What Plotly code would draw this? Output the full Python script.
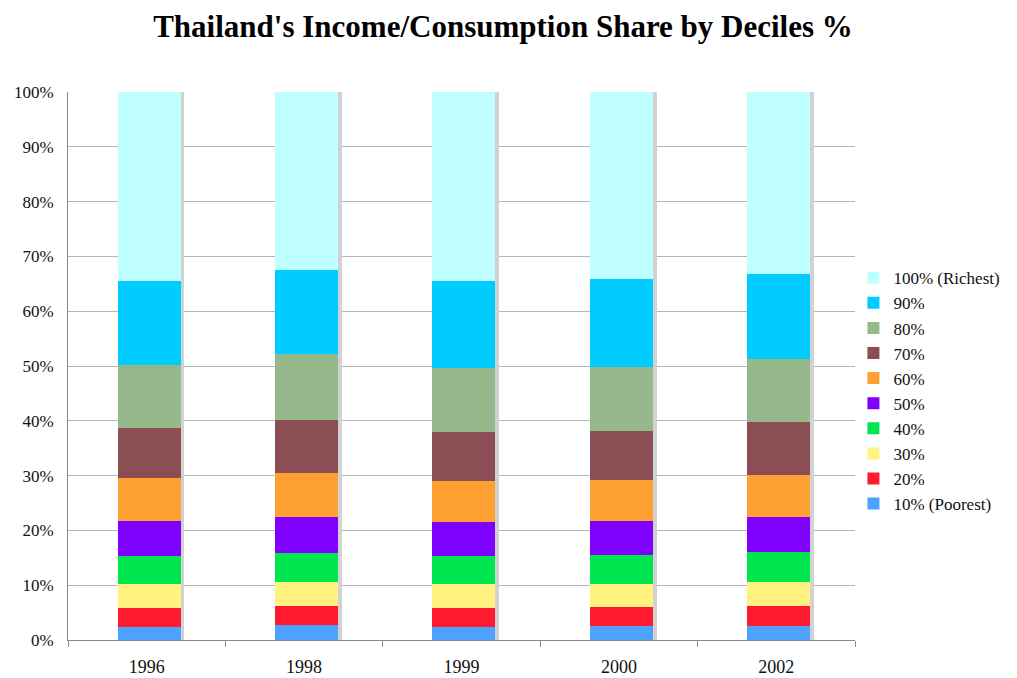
import plotly.graph_objects as go

years = ["1996", "1998", "1999", "2000", "2002"]
deciles = ["10% (Poorest)", "20%", "30%", "40%", "50%", "60%", "70%", "80%", "90%", "100% (Richest)"]

share_10 = [2.4, 2.7, 2.4, 2.6, 2.6]
share_20 = [3.5, 3.5, 3.5, 3.5, 3.6]
share_30 = [4.3, 4.3, 4.3, 4.1, 4.3]
share_40 = [5.1, 5.4, 5.1, 5.3, 5.6]
share_50 = [6.4, 6.6, 6.2, 6.2, 6.4]
share_60 = [7.8, 7.9, 7.5, 7.5, 7.7]
share_70 = [9.1, 9.7, 9.0, 9.0, 9.5]
share_80 = [11.5, 12.0, 11.7, 11.7, 11.6]
share_90 = [15.5, 15.5, 15.9, 16.0, 15.4]
share_100 = [34.4, 32.4, 34.4, 34.1, 33.3]

series = [share_10, share_20, share_30, share_40, share_50,
          share_60, share_70, share_80, share_90, share_100]
colors = ["#4DA3FF", "#FF1A30", "#FFF27F", "#00E64F", "#7F00FF",
          "#FFA033", "#8C4E55", "#95B98B", "#00CCFF", "#C0FFFF"]

FONT = "Liberation Serif"
totals = [sum(v) for v in zip(*series)]

fig = go.Figure()
# drop shadow behind each bar (base axes)
fig.add_trace(go.Bar(
    x=years, y=totals, showlegend=False, hoverinfo="skip",
    marker=dict(color="#d2d2d2", line=dict(width=0)),
    width=0.4, offset=-0.16, xaxis="x", yaxis="y",
))
for name, vals, col in zip(deciles, series, colors):
    fig.add_trace(go.Bar(
        x=years, y=vals, name=name, legendgroup=name,
        marker=dict(color=col, line=dict(width=0)),
        width=0.4, offset=-0.185, xaxis="x2", yaxis="y2",
    ))

W, H = 1009, 670
fig.update_layout(
    barmode="stack",
    width=W, height=H,
    paper_bgcolor="white", plot_bgcolor="white",
    font=dict(family=FONT, size=18, color="#111111"),
    title=dict(text="<b>Thailand's Income/Consumption Share by Deciles %</b>",
               x=0.4906, xanchor="center", y=0.973, yanchor="middle",
               font=dict(family=FONT, size=31, color="black")),
    margin=dict(l=60, r=162, t=84, b=38),
    legend=dict(traceorder="reversed", x=0.998, xanchor="left", y=0.455, yanchor="middle",
                font=dict(family=FONT, size=17, color="#111111"),
                tracegroupgap=11, itemwidth=30, bgcolor="rgba(0,0,0,0)"),
    showlegend=True,
    xaxis=dict(type="category", showline=True, linecolor="#8a8a8a", linewidth=1,
               ticks="outside", tickson="boundaries", ticklen=6, tickcolor="#8a8a8a",
               showgrid=False, automargin=False, ticklabelstandoff=10,
               tickfont=dict(family=FONT, size=18, color="#111111")),
    yaxis=dict(range=[0, 100], dtick=10, ticksuffix="%", showline=True,
               linecolor="#8a8a8a", linewidth=1, gridcolor="#b5b5b5", gridwidth=1,
               ticks="", zeroline=False, automargin=False, ticklabelstandoff=10,
               tickfont=dict(family=FONT, size=17, color="#111111")),
    xaxis2=dict(type="category", overlaying="x", matches="x", visible=False),
    yaxis2=dict(overlaying="y", range=[0, 100], visible=False),
)

fig.write_html("out.html")
